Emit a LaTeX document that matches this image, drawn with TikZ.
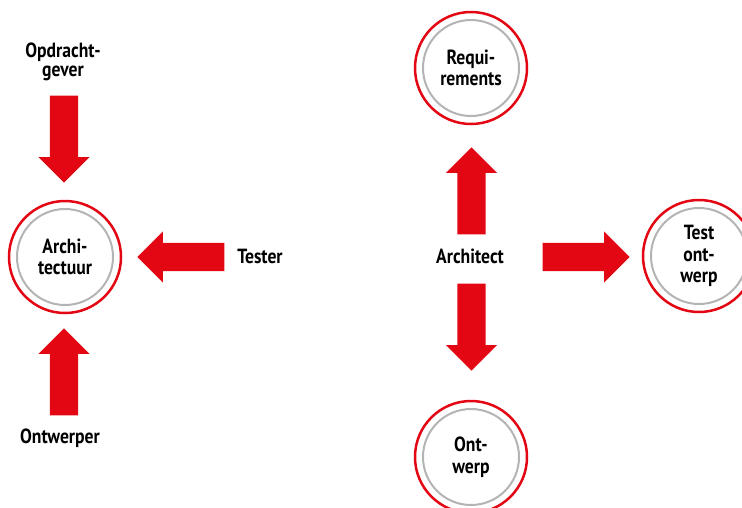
\documentclass[tikz,border=0pt]{standalone}
\usepackage{fontspec}
\setmainfont{PT Sans}[FakeStretch=0.86]
\usepackage{xcolor}
\usetikzlibrary{shapes.arrows}

\definecolor{rolred}{HTML}{E30613}
\definecolor{rolgray}{HTML}{B4B4B4}

\tikzset{
  role/.style={circle, draw=rolred, line width=2.5pt, fill=white, minimum size=112pt,
    inner sep=0pt, align=center, font=\fontsize{20.5}{21.5}\selectfont\bfseries},
  ring/.style={draw=rolgray, line width=2pt},
  actor/.style={align=center, font=\fontsize{20.5}{19.5}\selectfont\bfseries},
  bigarrow/.style={shape=single arrow, fill=rolred, draw=none, inner sep=14pt,
    single arrow head extend=11.5pt, single arrow tip angle=90,
    minimum height=87pt, anchor=tip}
}

\begin{document}
\begin{tikzpicture}[x=1pt, y=-1pt]
\useasboundingbox (0,0) rectangle (742,507);
\clip (0,0) rectangle (742,507);

% left: everyone looks at the architecture
\node[role] (archi) at (65, 257) {Archi-\\tectuur};
\draw[ring] (archi.center) circle (48pt);

\node[actor] (opdr) at (63, 62) {Opdracht-\\gever};
\node[actor] (tester) at (260, 256) {Tester};
\node[actor] (ontwerper) at (60, 438) {Ontwerper};

\node[bigarrow, shape border rotate=270] (a1) at (64, 183) {};
\node[bigarrow, shape border rotate=180] (a2) at (137, 257) {};
\node[bigarrow, shape border rotate=90] (a3) at (64, 328) {};

% right: the architect produces
\node[actor] (architect) at (470, 256) {Architect};

\node[role] (req) at (471, 68) {Requi-\\rements};
\draw[ring] (req.center) circle (48pt);
\node[role] (testo) at (699, 256) {Test\\ont-\\werp};
\draw[ring] (testo.center) circle (48pt);
\node[role] (ontw) at (471, 457) {Ont-\\werp};
\draw[ring] (ontw.center) circle (48pt);

\node[bigarrow, shape border rotate=90] (a4) at (471.5, 147) {};
\node[bigarrow, shape border rotate=0] (a5) at (630, 257) {};
\node[bigarrow, shape border rotate=270] (a6) at (471.5, 371) {};
\end{tikzpicture}
\end{document}
